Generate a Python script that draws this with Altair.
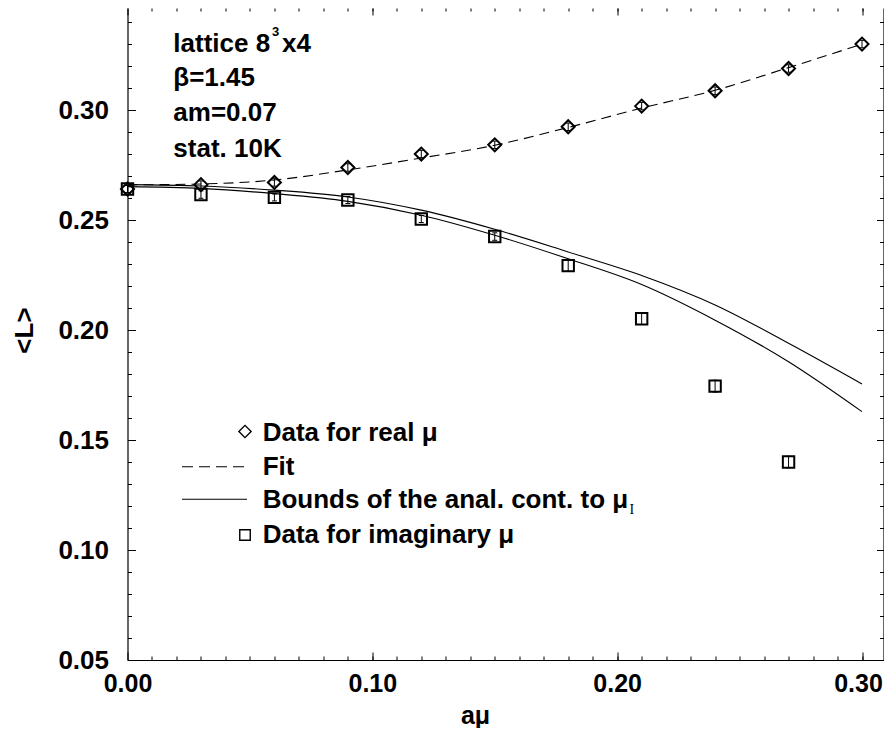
import altair as alt
import pandas as pd

# ---------------- data ----------------
mu_real = [0.00, 0.03, 0.06, 0.09, 0.12, 0.15, 0.18, 0.21, 0.24, 0.27, 0.30]
L_real = [0.2641, 0.2661, 0.2671, 0.2739, 0.2800, 0.2842, 0.2924, 0.3018, 0.3088, 0.3189, 0.3300]
L_real_err = [0.0017, 0.0017, 0.0017, 0.0017, 0.0017, 0.0017, 0.0017, 0.0017, 0.0017, 0.0017, 0.0017]

mu_imag = [0.00, 0.03, 0.06, 0.09, 0.12, 0.15, 0.18, 0.21, 0.24, 0.27]
L_imag = [0.2641, 0.2616, 0.2603, 0.2591, 0.2505, 0.2425, 0.2293, 0.2051, 0.1745, 0.1400]
L_imag_err = [0.0016, 0.0017, 0.0016, 0.0016, 0.0016, 0.0017, 0.0026, 0.0026, 0.0027, 0.0026]

mu_curve = [0.00, 0.03, 0.06, 0.09, 0.12, 0.15, 0.18, 0.21, 0.24, 0.27, 0.30]
L_fit = [0.2660, 0.2664, 0.2682, 0.2728, 0.2782, 0.2840, 0.2921, 0.3009, 0.3090, 0.3193, 0.3300]
L_upper = [0.2661, 0.2655, 0.2636, 0.2605, 0.2545, 0.2458, 0.2355, 0.2248, 0.2114, 0.1940, 0.1755]
L_lower = [0.2652, 0.2644, 0.2620, 0.2585, 0.2522, 0.2431, 0.2324, 0.2207, 0.2045, 0.1856, 0.1629]

x_major = [0.0, 0.1, 0.2, 0.3]
x_minor = [round(0.01 * i, 2) for i in range(1, 31)]
y_major = [0.05, 0.10, 0.15, 0.20, 0.25, 0.30]
y_minor = [round(0.01 * i, 2) for i in range(6, 35)]

annotation = ["lattice 8", "3", "x4", "β=1.45", "am=0.07", "stat. 10K"]
legend_labels = ["Data for real μ", "Fit", "Bounds of the anal. cont. to μ", "I", "Data for imaginary μ"]

# ---------------- tables ----------------
real_df = pd.DataFrame({"mu": mu_real, "L": L_real,
                        "lo": [v - e for v, e in zip(L_real, L_real_err)],
                        "hi": [v + e for v, e in zip(L_real, L_real_err)]})
imag_df = pd.DataFrame({"mu": mu_imag, "L": L_imag,
                        "lo": [v - e for v, e in zip(L_imag, L_imag_err)],
                        "hi": [v + e for v, e in zip(L_imag, L_imag_err)]})
fit_df = pd.DataFrame({"mu": mu_curve, "L": L_fit})
up_df = pd.DataFrame({"mu": mu_curve, "L": L_upper})
low_df = pd.DataFrame({"mu": mu_curve, "L": L_lower})

FONT = "Liberation Sans"
W, H = 756, 652
xs = alt.Scale(domain=[0, 0.30878], nice=False, zero=False)
ys = alt.Scale(domain=[0.05, 0.3464], nice=False, zero=False)


def tick_axis(orient, values, size, offset, domain=False):
    return alt.Axis(orient=orient, values=values, offset=offset, tickSize=size,
                    tickWidth=1, tickColor="black", labels=False, domain=domain,
                    domainColor="black", domainWidth=1.2, grid=False, title=None)


def x_labels(values, domain, title, label_offset=0):
    kw = dict(orient="bottom", values=values, format=".2f", ticks=False,
              domain=domain, domainColor="black", domainWidth=1.2, grid=False,
              labelFont=FONT, labelFontWeight="bold", labelFontSize=25,
              labelColor="black", labelPadding=11, labelFlush=False,
              labelOverlap=False, labelBound=False, labelOffset=label_offset)
    if title:
        kw.update(title="aμ", titleFont=FONT, titleFontWeight="bold", titleFontSize=25,
                  titleColor="black", titleX=347.5, titleY=63, titleBaseline="alphabetic")
    else:
        kw.update(title=None)
    return alt.Axis(**kw)


y_label_axis = alt.Axis(orient="left", values=y_major, format=".2f", ticks=False,
                        domain=True, domainColor="black", domainWidth=1.2, grid=False,
                        labelFont=FONT, labelFontWeight="bold", labelFontSize=26,
                        labelColor="black", labelPadding=19, labelFlush=False,
                        labelOverlap=False, labelBound=False,
                        title="<L>", titleFont=FONT, titleFontWeight="bold", titleFontSize=26,
                        titleColor="black", titleX=-95, titleY=322,
                        titleBaseline="alphabetic")


def X(axis):
    return alt.X("mu:Q", scale=xs, axis=axis)


def Y(axis, field="L:Q"):
    return alt.Y(field, scale=ys, axis=axis)


upper = alt.Chart(up_df).mark_line(color="black", strokeWidth=1.1, interpolate="monotone").encode(
    x=X(x_labels(x_major[:3], True, True)), y=Y(y_label_axis))
last_label = alt.Chart(up_df).mark_line(opacity=0).encode(
    x=X(x_labels(x_major[3:], False, False, label_offset=-4)), y=Y(None))
lower = alt.Chart(low_df).mark_line(color="black", strokeWidth=1.1, interpolate="monotone").encode(
    x=X(tick_axis("top", x_major, 8, -H)), y=Y(tick_axis("right", y_major, 8, -W)))
fit = alt.Chart(fit_df).mark_line(color="black", strokeWidth=1.1, strokeDash=[10, 6],
                                  interpolate="monotone").encode(
    x=X(tick_axis("top", x_minor, 4, -H)), y=Y(tick_axis("right", y_minor, 4, -W)))
diamonds = alt.Chart(real_df).mark_point(shape="diamond", size=170, filled=False, color="black",
                                         strokeWidth=2, opacity=1).encode(
    x=X(tick_axis("bottom", x_major, 7, -H)), y=Y(tick_axis("left", y_major, 7, -W, domain=True)))
squares = alt.Chart(imag_df).mark_point(shape="square", size=130, filled=False, color="black",
                                        strokeWidth=2, opacity=1).encode(
    x=X(tick_axis("bottom", x_minor, 3, -H)), y=Y(tick_axis("left", y_minor, 4, -W)))


def errbars(df):
    rule = alt.Chart(df).mark_rule(color="black", strokeWidth=1).encode(
        x=X(None), y=Y(None, "lo:Q"), y2="hi:Q")
    cap_lo = alt.Chart(df).mark_tick(color="black", orient="horizontal", size=5, thickness=1,
                                     opacity=1).encode(x=X(None), y=Y(None, "lo:Q"))
    cap_hi = alt.Chart(df).mark_tick(color="black", orient="horizontal", size=5, thickness=1,
                                     opacity=1).encode(x=X(None), y=Y(None, "hi:Q"))
    return [rule, cap_lo, cap_hi]


def text(t, x, y, size=26, weight="bold", font=FONT):
    return alt.Chart(pd.DataFrame({"t": [t]})).mark_text(
        font=font, fontSize=size, fontWeight=weight, align="left", baseline="alphabetic",
        color="black").encode(x=alt.value(x), y=alt.value(y), text="t:N")


one = pd.DataFrame({"k": [0]})
leg_diamond = alt.Chart(one).mark_point(shape="diamond", size=150, filled=False, color="black",
                                        strokeWidth=1.4, opacity=1).encode(
    x=alt.value(117.5), y=alt.value(423.5))
leg_square = alt.Chart(one).mark_point(shape="square", size=110, filled=False, color="black",
                                       strokeWidth=1.4, opacity=1).encode(
    x=alt.value(117.5), y=alt.value(527))
leg_dash = alt.Chart(one).mark_rule(color="black", strokeWidth=1.1, strokeDash=[11, 6]).encode(
    x=alt.value(54.5), x2=alt.value(119.5), y=alt.value(458.7))
leg_solid = alt.Chart(one).mark_rule(color="black", strokeWidth=1.1).encode(
    x=alt.value(54.5), x2=alt.value(119.5), y=alt.value(491.3))

layers = [upper, last_label, lower, fit, diamonds, squares] + errbars(real_df) + errbars(imag_df) + [
    leg_diamond, leg_square, leg_dash, leg_solid,
    text(legend_labels[0], 135.2, 433),
    text(legend_labels[1], 135.2, 467),
    text(legend_labels[2], 135.2, 499.7),
    text(legend_labels[3], 502, 506, size=14, weight="normal", font="Liberation Serif"),
    text(legend_labels[4], 135.2, 534.7),
    text(annotation[0], 45.8, 44),
    text(annotation[1], 144.5, 28, size=13),
    text(annotation[2], 154.5, 44),
    text(annotation[3], 45.8, 78),
    text(annotation[4], 45.8, 113),
    text(annotation[5], 45.8, 149),
]

chart = alt.layer(*layers).resolve_axis(x="independent", y="independent").properties(
    width=W, height=H,
    autosize=alt.AutoSizeParams(type="none"),
    padding={"left": 119.5, "top": 0, "right": 0, "bottom": 68},
    background="white",
).configure_view(stroke=None)

chart.save("out.html", embed_options={"renderer": "svg", "actions": False})
